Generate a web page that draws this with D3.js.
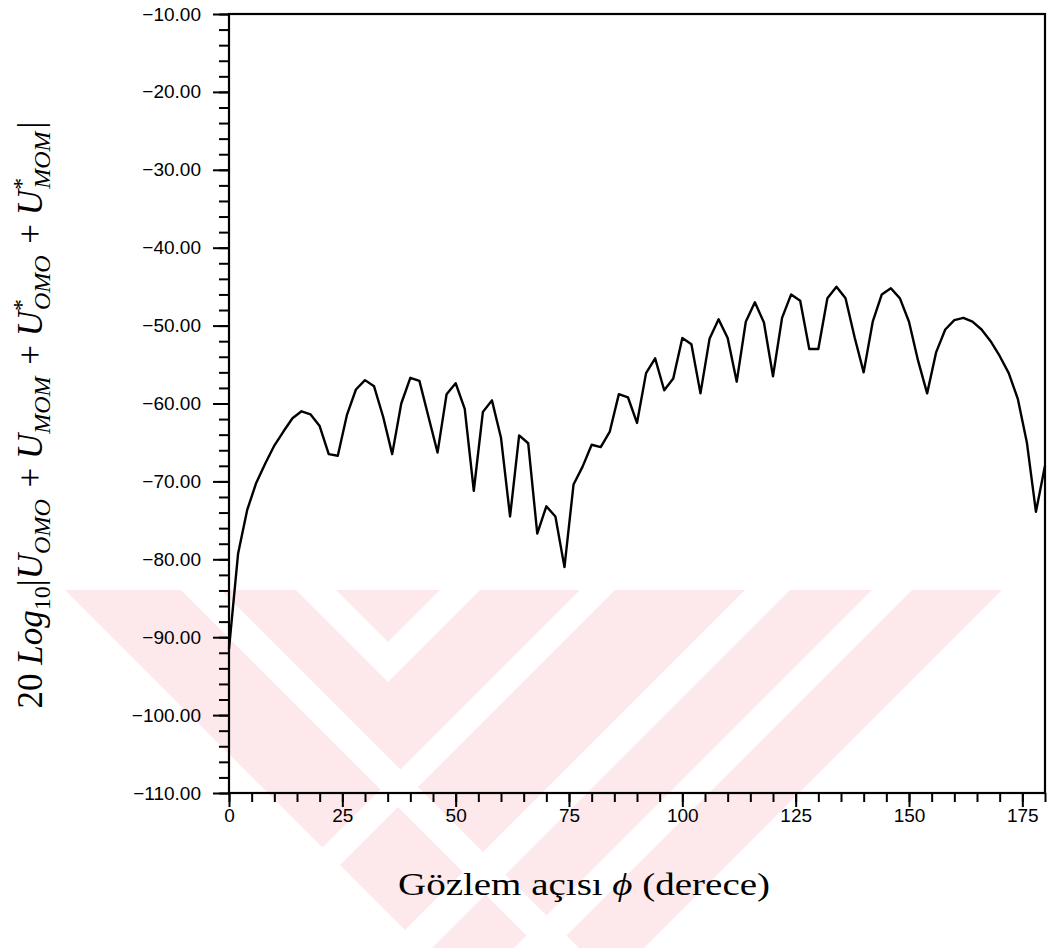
<!DOCTYPE html>
<html>
<head>
<meta charset="utf-8">
<script src="https://cdn.jsdelivr.net/npm/d3@7"></script>
<style>
  body { margin: 0; background: #fff; }
  svg { display: block; }
  .tick text { font-family: "Liberation Sans", Arial, sans-serif; font-size: 19px; fill: #000; }
  .math { font-family: "Liberation Serif", "DejaVu Serif", serif; fill: #000; }
</style>
</head>
<body>
<svg id="chart"></svg>
<script>
// angle in degrees, sampled every 2 degrees
var angles = d3.range(0, 181, 2);
// 20 log10 |...| values
var levels = [
  -91.5, -79.3, -73.7, -70.2, -67.7, -65.4, -63.6, -61.9, -61.0, -61.4,
  -62.9, -66.5, -66.7, -61.5, -58.2, -57.0, -57.8, -61.7, -66.5, -60.0,
  -56.7, -57.1, -61.7, -66.3, -58.8, -57.4, -60.7, -71.2, -61.1, -59.6,
  -64.4, -74.5, -64.1, -65.1, -76.7, -73.2, -74.5, -81.0, -70.4, -68.1,
  -65.3, -65.6, -63.6, -58.8, -59.2, -62.5, -56.1, -54.2, -58.3, -56.8,
  -51.6, -52.4, -58.7, -51.7, -49.2, -51.6, -57.2, -49.5, -47.0, -49.6,
  -56.5, -49.0, -46.0, -46.8, -53.0, -53.0, -46.5, -45.0, -46.5, -51.5,
  -56.0, -49.5, -46.0, -45.2, -46.5, -49.5, -54.5, -58.7, -53.4, -50.5,
  -49.3, -49.0, -49.5, -50.5, -52.0, -53.9, -56.1, -59.4, -65.0, -73.9,
  -68.0
];
var xTicks = [0, 25, 50, 75, 100, 125, 150, 175];
var yTicks = [-10, -20, -30, -40, -50, -60, -70, -80, -90, -100, -110];

var W = 1049, H = 948;
var mLeft = 229, mRight = 1045, mTop = 14, mBottom = 793;

var svg = d3.select("#chart").attr("width", W).attr("height", H);

// faint scanned watermark behind the plot (45 degree bands)
var wm = svg.append("g");
wm.append("polygon").attr("fill", "#fde8ec")
  .attr("points", "65,590 1002,590 644,948 423,948");
var gaps = [
  "181,590 221,590 579,948 539,948",
  "296,590 336,590 388,642 440,590 480,590 388,682",
  "580,590 615,590 257,948 222,948",
  "745,590 790,590 432,948 387,948",
  "872,590 912,590 554,948 514,948"
];
wm.selectAll(".gap").data(gaps).enter().append("polygon")
  .attr("class", "gap").attr("fill", "#fff")
  .attr("points", function(d){ return d; });

var x = d3.scaleLinear().domain([0, 180]).range([mLeft, mRight]);
var y = d3.scaleLinear().domain([-110, -10]).range([mBottom, mTop]);

// minor ticks
svg.append("g")
  .attr("transform", "translate(0," + mBottom + ")")
  .call(d3.axisBottom(x).tickValues(d3.range(0, 181, 5)).tickSize(9).tickFormat(""))
  .call(function(g){ g.select(".domain").remove(); });
svg.append("g")
  .attr("transform", "translate(" + mLeft + ",0)")
  .call(d3.axisLeft(y).tickValues(d3.range(-110, -9, 2)).tickSize(10).tickFormat(""))
  .call(function(g){ g.select(".domain").remove(); });

// major ticks + labels
svg.append("g")
  .attr("transform", "translate(0," + mBottom + ")")
  .call(d3.axisBottom(x).tickValues(xTicks).tickSize(14).tickPadding(2).tickFormat(d3.format("d")))
  .call(function(g){ g.select(".domain").remove(); });
svg.append("g")
  .attr("transform", "translate(" + mLeft + ",0)")
  .call(d3.axisLeft(y).tickValues(yTicks).tickSize(16).tickPadding(12)
    .tickFormat(function(d){ return d3.format(".2f")(d).replace("-", "\u2212"); }))
  .call(function(g){ g.select(".domain").remove(); });

svg.selectAll(".tick line").attr("stroke", "#000").attr("stroke-width", 2);

// frame
svg.append("rect")
  .attr("x", mLeft).attr("y", mTop)
  .attr("width", mRight - mLeft).attr("height", mBottom - mTop)
  .attr("fill", "none").attr("stroke", "#000").attr("stroke-width", 2.2);

// curve
var line = d3.line()
  .x(function(d, i){ return x(angles[i]); })
  .y(function(d){ return y(d); });
svg.append("path")
  .datum(levels)
  .attr("d", line)
  .attr("fill", "none")
  .attr("stroke", "#000")
  .attr("stroke-width", 2.4)
  .attr("stroke-linejoin", "round");

// x title
var xt = svg.append("text").attr("class", "math")
  .attr("x", 584).attr("y", 895)
  .attr("text-anchor", "middle").attr("font-size", 32)
  .attr("textLength", 372).attr("lengthAdjust", "spacingAndGlyphs");
xt.append("tspan").text("Gözlem açısı ");
xt.append("tspan").attr("font-style", "italic").text("\u03d5");
xt.append("tspan").text(" (derece)");

// y title, built from pieces
var fs = 35, ss = 24;
var yt = svg.append("text").attr("class", "math")
  .attr("transform", "translate(42,415) rotate(-90)")
  .attr("text-anchor", "middle").attr("font-size", fs);
function it(s){ yt.append("tspan").attr("font-style", "italic").text(s); }
function txt(s){ yt.append("tspan").text(s); }
function sub(s){ yt.append("tspan").attr("font-size", ss).attr("font-style", "italic").attr("dy", 8).text(s); }
function back(){ yt.append("tspan").attr("dy", -8).text("\u200a"); }
function star(s){
  yt.append("tspan").attr("font-size", ss).attr("dy", -13).text("*");
  yt.append("tspan").attr("font-size", ss).attr("font-style", "italic").attr("dx", -11).attr("dy", 21).text(s);
}
txt("20 ");
it("Log");
yt.append("tspan").attr("font-size", ss).attr("dy", 8).text("10");
yt.append("tspan").attr("dy", -8).text("|");
it("U"); sub("OMO"); back();
txt(" + ");
it("U"); sub("MOM"); back();
txt(" + ");
it("U"); star("OMO"); back();
txt(" + ");
it("U"); star("MOM"); back();
txt("|");
</script>
</body>
</html>
